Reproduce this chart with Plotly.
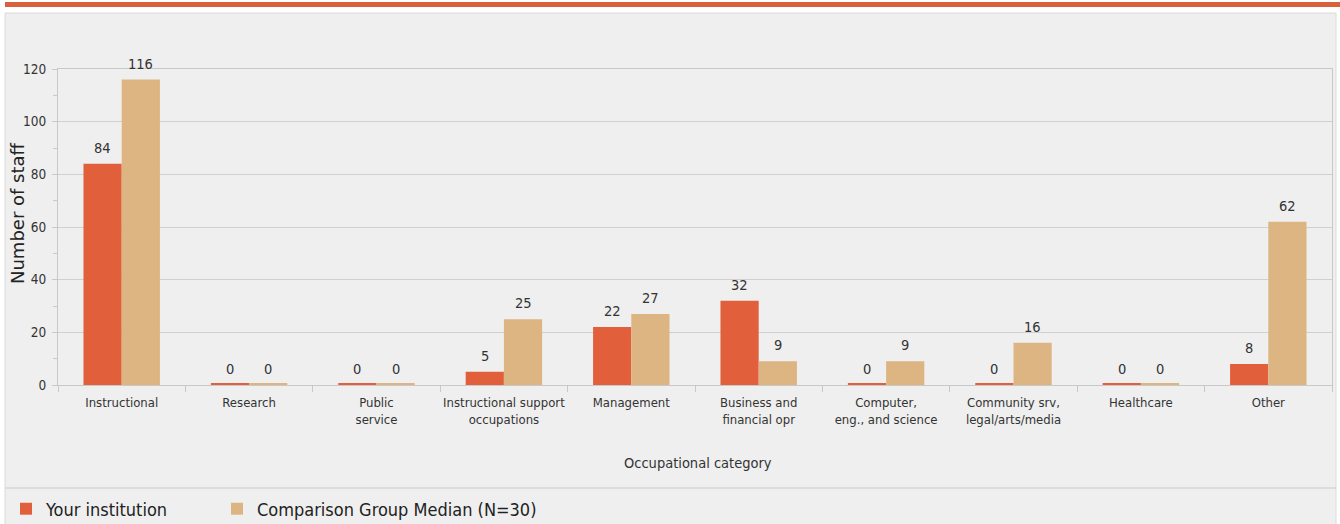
import plotly.graph_objects as go

categories = ["Instructional", "Research", "Public<br>service", "Instructional support<br>occupations",
              "Management", "Business and<br>financial opr", "Computer,<br>eng., and science",
              "Community srv,<br>legal/arts/media", "Healthcare", "Other"]
your_institution = [84, 0, 0, 5, 22, 32, 0, 0, 0, 8]
comparison_median = [116, 0, 0, 25, 27, 9, 9, 16, 0, 62]
series_names = ["Your institution", "Comparison Group Median (N=30)"]
y_ticks = [0, 20, 40, 60, 80, 100, 120]

W, H = 1340, 524
ML, MR, MT, MB = 58, 8, 69, 139
PW, PH = W - ML - MR, H - MT - MB
BARGAP = 0.4
BAR_PX = PW / len(categories) * (1 - BARGAP) / 2

def px_x(p):
    return (p - ML) / PW

def px_y(p):
    return 1 - (p - MT) / PH

NARROW = "DejaVu Sans Condensed, Liberation Sans Narrow, Arial Narrow, sans-serif"
ORANGE = "#E25F3B"
TAN = "#DDB582"

fig = go.Figure()
annotations = []
series = [(series_names[0], your_institution, ORANGE, "legend"),
          (series_names[1], comparison_median, TAN, "legend2")]
for i, (name, vals, col, leg) in enumerate(series):
    fig.add_trace(go.Bar(
        x=categories, y=[max(v, 0.5) for v in vals], customdata=vals,
        name=name, legend=leg, marker=dict(color=col, line=dict(width=0)),
        hoverinfo="x+name+text", hovertext=[str(v) for v in vals],
    ))
    shift = (i - 0.5) * BAR_PX
    for c, v in zip(categories, vals):
        annotations.append(dict(
            x=c, y=v, xref="x", yref="y", text=str(v), showarrow=False,
            xshift=shift, yshift=16, yanchor="middle", xanchor="center",
            font=dict(family=NARROW, size=14.5, color="#333333"),
        ))

annotations.append(dict(
    x=px_x(17), y=px_y(213), xref="paper", yref="paper", text="Number of staff",
    textangle=-90, showarrow=False, xanchor="center", yanchor="middle",
    font=dict(family="DejaVu Sans, sans-serif", size=18, color="#222222"),
))
annotations.append(dict(
    x=px_x(698), y=px_y(463), xref="paper", yref="paper", text="Occupational category",
    showarrow=False, xanchor="center", yanchor="middle",
    font=dict(family=NARROW, size=14.5, color="#333333"),
))

shapes = [
    dict(type="rect", xref="paper", yref="paper", x0=px_x(5), x1=px_x(1340), y0=px_y(2), y1=px_y(7),
         fillcolor="#D9603B", line=dict(width=0), layer="below"),
    dict(type="rect", xref="paper", yref="paper", x0=px_x(5), x1=px_x(1336), y0=px_y(13), y1=px_y(530),
         fillcolor="#EFEFEF", line=dict(width=1, color="#DADADA"), layer="below"),
    dict(type="line", xref="paper", yref="paper", x0=px_x(5), x1=px_x(1336), y0=px_y(488), y1=px_y(488),
         line=dict(width=1.5, color="#D6D6D6")),
]

legend_common = dict(orientation="h", xanchor="left", yanchor="middle",
                     font=dict(family=NARROW, size=18, color="#222222"),
                     bgcolor="rgba(0,0,0,0)", itemwidth=30)

fig.update_layout(
    width=W, height=H,
    margin=dict(l=ML, r=MR, t=MT, b=MB, pad=0, autoexpand=False),
    paper_bgcolor="white", plot_bgcolor="#EFEFEF",
    barmode="group", bargap=BARGAP, bargroupgap=0,
    shapes=shapes, annotations=annotations,
    showlegend=True,
    legend=dict(x=px_x(6), y=px_y(509), **legend_common),
    legend2=dict(x=px_x(217), y=px_y(509), **legend_common),
    font=dict(family=NARROW, color="#333333"),
)
fig.update_xaxes(
    automargin=False, tickangle=0,
    showline=True, linecolor="#C8C8C8", linewidth=1, mirror=True,
    ticks="outside", tickson="boundaries", ticklen=6, tickcolor="#C8C8C8",
    ticklabelstandoff=5,
    tickfont=dict(family=NARROW, size=13, color="#333333"),
    showgrid=False, fixedrange=True,
)
fig.update_yaxes(
    automargin=False,
    range=[0, 120], tickvals=y_ticks,
    showline=True, linecolor="#C8C8C8", linewidth=1, mirror=True,
    showgrid=True, gridcolor="#D0D0D0", gridwidth=1,
    ticks="outside", ticklen=5, tickcolor="#C8C8C8",
    ticklabelstandoff=3,
    minor=dict(dtick=10, ticks="outside", ticklen=4, tickcolor="#C8C8C8", showgrid=False),
    tickfont=dict(family=NARROW, size=13.5, color="#333333"),
    zeroline=False, fixedrange=True,
)

fig.write_html("out.html", config={"displayModeBar": False},
               post_script="document.body.style.margin='0';")
